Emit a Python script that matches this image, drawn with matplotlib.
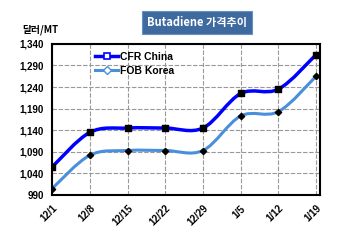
import matplotlib.pyplot as plt
from matplotlib.path import Path
from matplotlib.patches import PathPatch

# ------------------------------------------------------------
# Data
# ------------------------------------------------------------

DATES = ["12/1", "12/8", "12/15", "12/22", "12/29", "1/5", "1/12", "1/19"]
CFR_CHINA = [1055, 1135, 1145, 1145, 1145, 1225, 1235, 1315]
FOB_KOREA = [1005, 1082, 1093, 1093, 1093, 1173, 1183, 1265]
Y_TICKS = [990, 1040, 1090, 1140, 1190, 1240, 1290, 1340]

plt.rcParams["font.family"] = ["Liberation Sans", "Noto Sans CJK KR", "DejaVu Sans"]


def smooth_path(xs, ys):
    # Catmull-Rom style smoothing drawn as bezier segments (like Excel "smoothed line")
    pts = list(zip(xs, ys))
    n = len(pts)
    verts = [pts[0]]
    codes = [Path.MOVETO]
    for i in range(n - 1):
        p0 = pts[i - 1] if i > 0 else pts[i]
        p1 = pts[i]
        p2 = pts[i + 1]
        p3 = pts[i + 2] if i + 2 < n else pts[i + 1]
        c1 = (p1[0] + (p2[0] - p0[0]) / 6, p1[1] + (p2[1] - p0[1]) / 6)
        c2 = (p2[0] - (p3[0] - p1[0]) / 6, p2[1] - (p3[1] - p1[1]) / 6)
        verts += [c1, c2, p2]
        codes += [Path.CURVE4] * 3
    return Path(verts, codes)


fig = plt.figure(figsize=(3.5, 2.4), dpi=100)
ax = fig.add_axes([0.149, 0.1875, 0.765, 0.63])

x = list(range(len(DATES)))

ax.add_patch(PathPatch(smooth_path(x, CFR_CHINA), fill=False, edgecolor="#0000ff", lw=2.5, zorder=3))
ax.add_patch(PathPatch(smooth_path(x, FOB_KOREA), fill=False, edgecolor="#4a8fdc", lw=2.2, zorder=3))

ax.scatter(x, CFR_CHINA, marker="s", s=14, color="black", zorder=4)
ax.scatter(x, FOB_KOREA, marker="D", s=10, color="black", zorder=4)

# legend proxies
ax.plot([], [], color="#0000ff", lw=2.5, marker="s", ms=5, mfc="white", mec="#0000ff", mew=1.2, label="CFR China")
ax.plot([], [], color="#4a8fdc", lw=2.2, marker="D", ms=4, mfc="white", mec="#4a8fdc", mew=1.0, label="FOB Korea")

ax.set_xlim(0, 7.1)
ax.set_ylim(990, 1340)
ax.set_xticks(x)
ax.set_xticklabels(DATES, rotation=45, ha="right", rotation_mode="anchor",
                   fontsize=7, fontweight="bold")
ax.set_yticks(Y_TICKS)
ax.set_yticklabels([f"{v:,}" for v in Y_TICKS], fontsize=7, fontweight="bold")
ax.tick_params(axis="y", length=0, pad=6)
ax.tick_params(axis="x", length=0, pad=6)

ax.grid(True, color="#999999", linestyle=(0, (4, 1.5)), lw=0.8)
for s in ax.spines.values():
    s.set_linewidth(1.5)
    s.set_color("black")

leg = ax.legend(loc="upper left", bbox_to_anchor=(0.13, 1.0), frameon=False,
                prop={"weight": "bold", "size": 7.5}, handlelength=2.2,
                handletextpad=0.2, labelspacing=0.35, borderaxespad=0.4)

fig.text(0.065, 0.865, "달러/MT", fontsize=7, fontweight="bold",
         family=["Noto Sans CJK KR", "DejaVu Sans"])
fig.text(0.562, 0.908, "Butadiene 가격추이", fontsize=8, fontweight="bold",
         color="white", ha="center", va="center",
         family=["Noto Sans CJK KR", "DejaVu Sans"],
         bbox=dict(boxstyle="square,pad=0.45", fc="#3e6aa0", ec="#6b8fbf", lw=0.8))

fig.savefig("out.png", dpi=100)
